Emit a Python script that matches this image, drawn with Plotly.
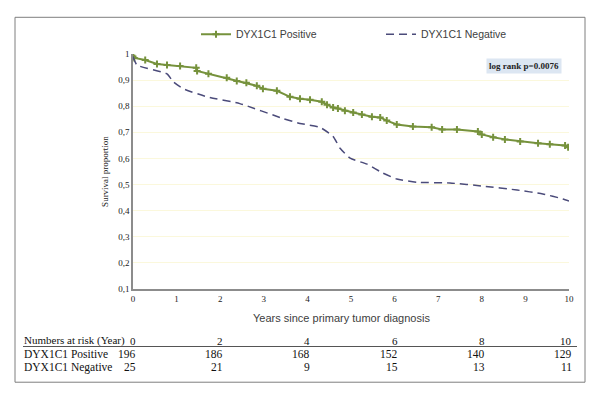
import plotly.graph_objects as go

# Kaplan-Meier curves
pos_years = [0, 0.03, 0.28, 0.55, 0.78, 1.08, 1.45, 1.47, 1.73, 2.15, 2.38, 2.6, 2.84, 2.98, 3.3,
             3.6, 3.83, 4.06, 4.33, 4.45, 4.59, 4.7, 4.86, 5.05, 5.25, 5.48, 5.67, 5.82, 6.05, 6.42,
             6.85, 7.09, 7.43, 7.91, 8.0, 8.26, 8.53, 8.88, 9.29, 9.56, 9.91, 9.98]
pos_surv = [0.99, 0.985, 0.977, 0.962, 0.958, 0.954, 0.947, 0.935, 0.924, 0.909, 0.897, 0.89, 0.878,
            0.867, 0.859, 0.836, 0.829, 0.825, 0.817, 0.806, 0.795, 0.791, 0.783, 0.776, 0.768, 0.76,
            0.757, 0.745, 0.73, 0.722, 0.719, 0.711, 0.711, 0.703, 0.692, 0.681, 0.673, 0.665, 0.658,
            0.654, 0.65, 0.643]

neg_years = [0, 0.09, 0.78, 0.92, 1.15, 1.7, 2.45, 3.44, 3.83, 4.29, 4.59, 4.75, 4.98, 5.37, 5.73,
             6.05, 6.51, 7.27, 8.03, 8.81, 9.4, 9.86, 10]
neg_surv = [0.99, 0.958, 0.924, 0.894, 0.867, 0.836, 0.81, 0.753, 0.734, 0.719, 0.684, 0.639, 0.601,
            0.578, 0.544, 0.521, 0.509, 0.506, 0.494, 0.479, 0.464, 0.445, 0.437]

y_ticks = [0.1, 0.2, 0.3, 0.4, 0.5, 0.6, 0.7, 0.8, 0.9, 1.0]
y_labels = ["0,1", "0,2", "0,3", "0,4", "0,5", "0,6", "0,7", "0,8", "0,9", "1"]

# numbers at risk table
risk_years = [0, 2, 4, 6, 8, 10]
risk_pos = [196, 186, 168, 152, 140, 129]
risk_neg = [25, 21, 9, 15, 13, 11]

GREEN = "#76923C"
NAVY = "#4B4B7A"
SERIF = "Liberation Serif, Times New Roman, serif"
SANS = "Liberation Sans, Arial, sans-serif"

fig = go.Figure()

fig.add_trace(go.Scatter(
    x=pos_years, y=pos_surv, mode="lines+markers", name="DYX1C1 Positive",
    line=dict(color=GREEN, width=2),
    marker=dict(symbol="cross-thin", size=5, line=dict(color=GREEN, width=2)),
    legend="legend",
))
fig.add_trace(go.Scatter(
    x=neg_years, y=neg_surv, mode="lines", name="DYX1C1 Negative",
    line=dict(color=NAVY, width=1.5, dash="8px,5px", shape="spline", smoothing=0.5),
    legend="legend2",
))

# page body adds an 8px offset; figure is 592x393, plot area 133..569 x 52..289 in page pixels
OFF = 8
W, H = 600 - OFF, 401 - OFF
L, R, T, B = 133 - OFF, W - (569 - OFF), 52 - OFF, H - (289 - OFF)
pw, ph = W - L - R, H - T - B


def px(xp):
    return (xp - OFF - L) / pw


def py(yp):
    return (H - B - (yp - OFF)) / ph


annotations = []
# log-rank box
annotations.append(dict(
    x=px(524), y=py(64), xref="paper", yref="paper", text="<b>log rank p=0.0076</b>",
    xanchor="center", yanchor="middle",
    showarrow=False, font=dict(family=SERIF, size=9, color="#222222"),
    bgcolor="#DCE6F2", borderpad=2,
))
# x axis title
annotations.append(dict(
    x=px(341), y=py(318), xref="paper", yref="paper", text="Years since primary tumor diagnosis",
    xanchor="center", yanchor="middle",
    showarrow=False, font=dict(family=SANS, size=11, color="#404040"),
))
# risk table
row_y = [py(341), py(355), py(368)]
row_labels = ["Numbers at risk (Year)", "DYX1C1 Positive", "DYX1C1 Negative"]
row_sizes = [11, 11.5, 11.5]
for lab, yy, fs in zip(row_labels, row_y, row_sizes):
    annotations.append(dict(
        x=px(22), y=yy, xref="paper", yref="paper", text=lab, xanchor="left", yanchor="middle",
        showarrow=False, font=dict(family=SERIF, size=fs, color="#111111"),
    ))
for yr, p, n in zip(risk_years, risk_pos, risk_neg):
    for val, yy, fs in zip([yr, p, n], row_y, row_sizes):
        annotations.append(dict(
            x=yr, y=yy, xref="x", yref="paper", text=str(val), xanchor="right", yanchor="middle",
            xshift=5, showarrow=False, font=dict(family=SERIF, size=fs, color="#111111"),
        ))

shapes = [
    dict(type="rect", xref="paper", yref="paper", x0=px(15), x1=px(585), y0=py(15), y1=py(383),
         line=dict(color="#7F7F7F", width=1)),
    dict(type="line", xref="paper", yref="paper", x0=px(23), x1=px(577), y0=py(347), y1=py(347),
         line=dict(color="#555555", width=1)),
]

fig.update_layout(
    width=W, height=H,
    margin=dict(l=L, r=R, t=T, b=B),
    paper_bgcolor="white", plot_bgcolor="white",
    showlegend=True,
    legend=dict(x=px(196), y=py(32), xanchor="left", yanchor="middle", orientation="h",
                font=dict(family=SANS, size=10.5, color="#404040"), bgcolor="rgba(0,0,0,0)"),
    legend2=dict(x=px(381), y=py(32), xanchor="left", yanchor="middle", orientation="h",
                 font=dict(family=SANS, size=10.5, color="#404040"), bgcolor="rgba(0,0,0,0)"),
    xaxis=dict(range=[0, 10], tickvals=list(range(11)), showgrid=False, zeroline=False,
               showline=True, linecolor="#8C8C8C", linewidth=1.5, ticks="",
               tickfont=dict(family=SERIF, size=9, color="#222222")),
    yaxis=dict(range=[0.1, 1.0], tickvals=y_ticks, ticktext=y_labels, showgrid=True,
               gridcolor="#FBF8DC", zeroline=False, showline=True, linecolor="#8C8C8C",
               linewidth=1.5, ticks="", tickfont=dict(family=SERIF, size=9, color="#222222"),
               title=dict(text="Survival proportion", font=dict(family=SERIF, size=9, color="#222222"),
                          standoff=8)),
    annotations=annotations,
    shapes=shapes,
)

fig.write_html("out.html")
